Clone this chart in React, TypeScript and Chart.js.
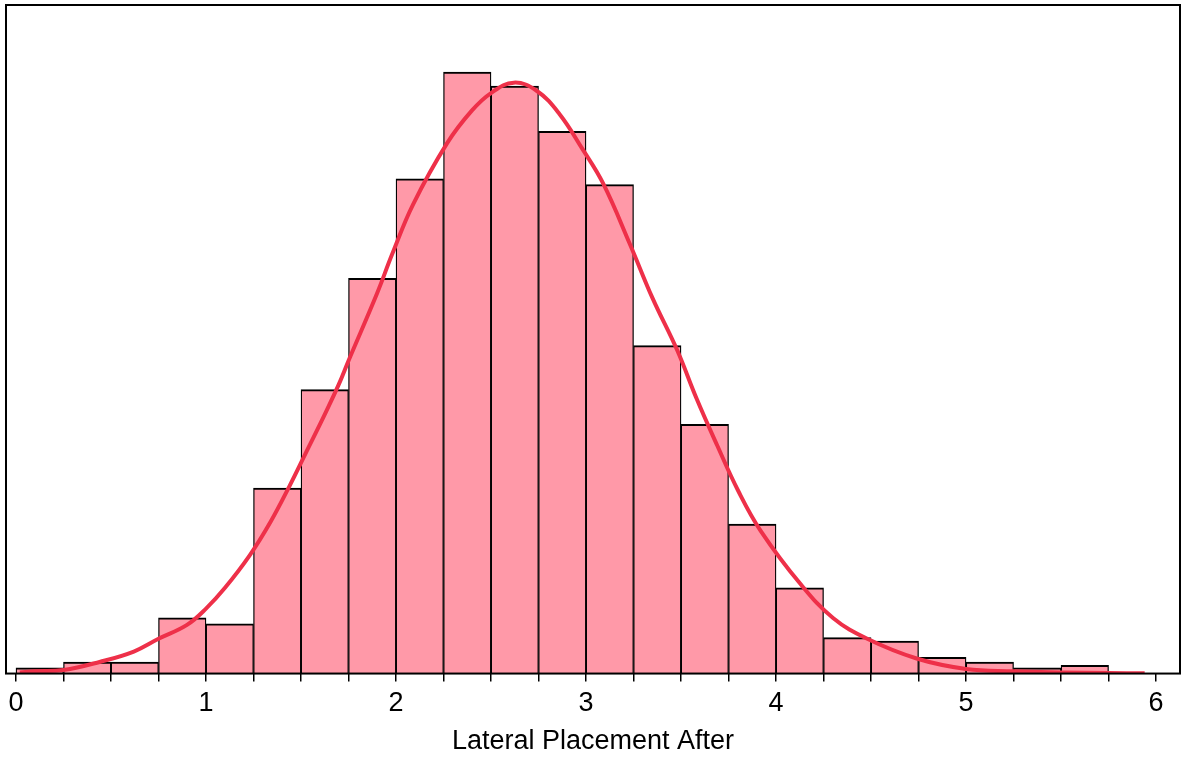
import React, { useEffect, useRef } from "react";
import { Chart, registerables } from "chart.js";

Chart.register(...registerables);

// Histogram bins (width 0.25) — left edges and density heights
const BIN_WIDTH = 0.25;
const BIN_STARTS = [
  0, 0.25, 0.5, 0.75, 1, 1.25, 1.5, 1.75, 2, 2.25, 2.5, 2.75,
  3, 3.25, 3.5, 3.75, 4, 4.25, 4.5, 4.75, 5, 5.25, 5.5, 5.75,
];
const BIN_DENSITY = [
  0.005, 0.01, 0.01, 0.048, 0.043, 0.16, 0.245, 0.341, 0.427, 0.519, 0.507, 0.468,
  0.422, 0.283, 0.215, 0.129, 0.074, 0.031, 0.028, 0.014, 0.01, 0.005, 0.007, 0,
];

// Kernel density estimate curve
const KDE_X = [
  0.02, 0.1, 0.25, 0.44, 0.62, 0.75, 0.9, 1.0, 1.1, 1.23, 1.34, 1.44, 1.53, 1.62,
  1.7, 1.75, 1.9, 1.98, 2.09, 2.27, 2.4, 2.5, 2.62, 2.74, 2.86, 2.98, 3.09, 3.23,
  3.35, 3.48, 3.58, 3.69, 3.8, 3.92, 4.13, 4.3, 4.48, 4.74, 5.0, 5.25, 5.5, 5.75, 5.94,
];
const KDE_Y = [
  0.001, 0.002, 0.003, 0.01, 0.019, 0.03, 0.042, 0.056, 0.074, 0.102, 0.131, 0.162, 0.192, 0.222,
  0.25, 0.27, 0.328, 0.362, 0.405, 0.458, 0.486, 0.501, 0.51, 0.503, 0.483, 0.453, 0.423, 0.371,
  0.324, 0.279, 0.238, 0.197, 0.158, 0.123, 0.077, 0.048, 0.03, 0.013, 0.004, 0.002, 0.001, 0.0004, 0.0003,
];

// Axis
const X_MIN = -0.0526;
const X_MAX = 6.126;
const Y_MAX = 0.577;
const X_TICK_STEP = 0.25;
const X_TICK_FIRST = 0;
const X_TICK_LAST = 6;
const X_TITLE = "Lateral Placement After";

const BAR_FILL = "#FF99A8";
const CURVE_COLOR = "#EE3049";
const FONT = "'Liberation Sans', Arial, sans-serif";

const framePlugin = {
  id: "frame",
  afterDatasetsDraw(chart: any) {
    const { ctx, chartArea } = chart;
    ctx.save();
    ctx.strokeStyle = "#000";
    ctx.lineWidth = 2;
    ctx.strokeRect(chartArea.left, chartArea.top, chartArea.right - chartArea.left, chartArea.bottom - chartArea.top);
    ctx.restore();
  },
};

export default function App() {
  const ref = useRef<HTMLCanvasElement | null>(null);

  useEffect(() => {
    if (!ref.current) return;
    const bars = BIN_STARTS.map((s, i) => ({ x: s + BIN_WIDTH / 2, y: BIN_DENSITY[i] }));
    const kde = KDE_X.map((x, i) => ({ x, y: KDE_Y[i] }));
    const tickValues: number[] = [];
    for (let v = X_TICK_FIRST; v <= X_TICK_LAST + 1e-9; v += X_TICK_STEP) tickValues.push(Math.round(v * 100) / 100);

    const chart = new Chart(ref.current, {
      type: "bar",
      data: {
        datasets: [
          {
            type: "line",
            data: kde,
            borderColor: CURVE_COLOR,
            borderWidth: 4,
            pointRadius: 0,
            tension: 0.4,
            fill: false,
            order: 0,
          } as any,
          {
            type: "bar",
            data: bars,
            backgroundColor: BAR_FILL,
            borderColor: "#000",
            borderWidth: { top: 2, left: 1.3, right: 1.3, bottom: 0 },
            borderSkipped: false,
            barPercentage: 1,
            categoryPercentage: 1,
            order: 1,
          } as any,
        ],
      },
      options: {
        responsive: false,
        maintainAspectRatio: false,
        animation: false,
        layout: { padding: { top: 5, left: 6, right: 5, bottom: 0 } },
        plugins: { legend: { display: false }, tooltip: { enabled: false } },
        scales: {
          x: {
            type: "linear",
            min: X_MIN,
            max: X_MAX,
            offset: false,
            afterBuildTicks: (axis: any) => {
              axis.ticks = tickValues.map((v) => ({ value: v }));
            },
            grid: {
              offset: false,
              drawOnChartArea: false,
              drawTicks: true,
              tickLength: 8,
              color: "#000",
              lineWidth: 1.5,
            },
            border: { display: false },
            ticks: {
              autoSkip: false,
              maxRotation: 0,
              padding: 6,
              color: "#000",
              font: { size: 27, family: FONT },
              callback: (v: any) => (Number.isInteger(Number(v)) ? String(v) : ""),
            },
            title: {
              display: true,
              text: X_TITLE,
              color: "#000",
              font: { size: 27, family: FONT, lineHeight: 1.15 },
              padding: { top: 0, bottom: 0 },
            },
          },
          y: {
            display: false,
            min: 0,
            max: Y_MAX,
          },
        },
      },
      plugins: [framePlugin],
    } as any);
    return () => chart.destroy();
  }, []);

  return (
    <div style={{ position: "fixed", left: 0, top: 0, width: 1185, height: 757, background: "#fff" }}>
      <canvas ref={ref} width={1185} height={757} style={{ display: "block" }} />
    </div>
  );
}
